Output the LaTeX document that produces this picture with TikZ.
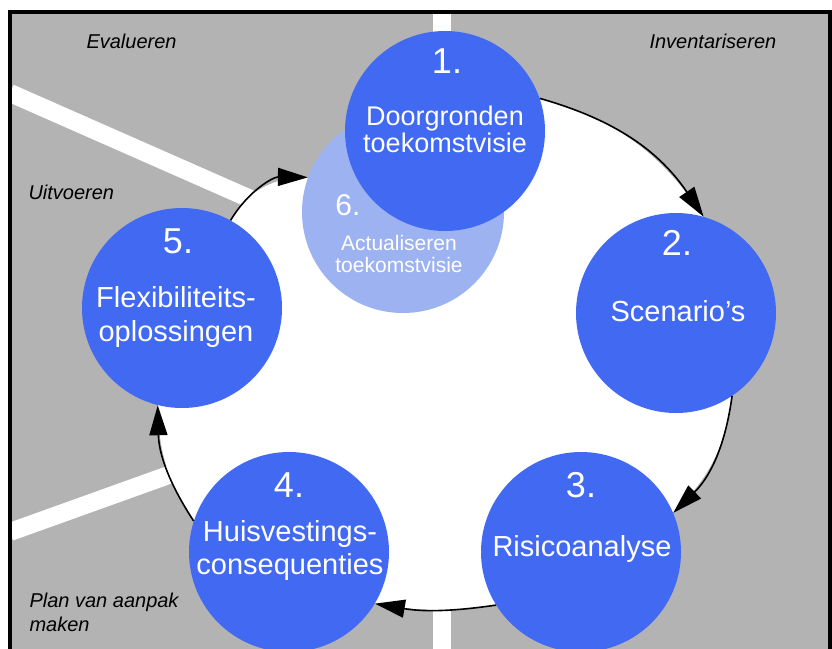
\documentclass[tikz,border=0pt]{standalone}
\usepackage{fontspec}
\setmainfont{Liberation Sans}
\usetikzlibrary{arrows.meta,backgrounds}

\definecolor{stageblue}{RGB}{65,105,242}
\definecolor{stagelight}{RGB}{157,178,240}
\definecolor{fieldgray}{RGB}{179,179,179}

\tikzset{
  stage/.style={circle, fill=stageblue, minimum size=200pt, inner sep=0pt},
  stagenum/.style={anchor=base, text=white, font=\fontsize{36}{36}\selectfont},
  stagetxt/.style={anchor=base, text=white, align=center, font=\fontsize{29}{33}\selectfont},
  phase/.style={anchor=base west, align=left, font=\itshape\fontsize{20}{24}\selectfont},
  road/.style={white, line width=18pt},
  flow/.style={-{Triangle[length=30pt,width=18pt]}, line width=1.6pt},
}

\begin{document}
\begin{tikzpicture}[x=1pt, y=-1pt]
  \useasboundingbox (0,0) rectangle (832,648);

  % steps; 6 sits behind step 1
  \node[stage, fill=stagelight, minimum size=202pt] (s6) at (403,212) {};
  \node[stage] (s1) at (445,131) {};
  \node[stage] (s2) at (676,313) {};
  \node[stage] (s3) at (581,552) {};
  \node[stage] (s4) at (289,552) {};
  \node[stage] (s5) at (182,308) {};

  \begin{scope}[on background layer]
    \fill[fieldgray] (10,12) rectangle (830,660);
    \draw[road] (442,10) -- (442,131);
    \draw[road] (442,560) -- (442,660);
    \draw[road] (10,93) -- (330,234);
    \draw[road] (10,532) -- (230,453);
    % white field inside the cycle
    \fill[white] (s1.center) -- (s1.19) to[bend left=20] (s2.74) -- (s2.center)
      -- (s2.304) to[bend left=19] (s3.23) -- (s3.center)
      -- (s3.212) to[bend left=9] (s4.329) -- (s4.center)
      -- (s4.162) to[bend left=16] (s5.256) -- (s5.center)
      -- (s5.61) to[bend left=30] (s6.160) -- (s6.center) -- cycle;
  \end{scope}

  \draw[line width=3.5pt] (10,12) rectangle (830,670);

  \draw[flow] (s1.19) to[bend left=20] (s2.74);
  \draw[flow] (s2.304) to[bend left=19] (s3.23);
  \draw[flow] (s3.212) to[bend left=9] (s4.329);
  \draw[flow] (s4.162) to[bend left=16] (s5.256);
  \draw[flow] (s5.61) to[bend left=30] (s6.160);

  % multi-line texts sit on their last baseline
  \node[stagenum] (n1) at (447,73) {1.};
  \node[stagetxt, font=\fontsize{27}{27}\selectfont] (t1) at (445,152) {Doorgronden\\toekomstvisie};
  \node[stagenum] (n2) at (677,255) {2.};
  \node[stagetxt] (t2) at (678,321) {Scenario's};
  \node[stagenum] (n3) at (581,497) {3.};
  \node[stagetxt] (t3) at (582,556) {Risicoanalyse};
  \node[stagenum] (n4) at (289,497) {4.};
  \node[stagetxt] (t4) at (290,574) {Huisvestings-\\consequenties};
  \node[stagenum] (n5) at (178,253) {5.};
  \node[stagetxt, font=\fontsize{29}{34}\selectfont] (t5) at (176,341) {Flexibiliteits-\\oplossingen};
  \node[stagenum, font=\fontsize{30}{30}\selectfont] (n6) at (348,215) {6.};
  \node[stagetxt, font=\fontsize{21}{22}\selectfont] (t6) at (399,272) {Actualiseren\\toekomstvisie};

  \node[phase] (ev) at (83,48) {Evalueren};
  \node[phase] (inv) at (646,48) {Inventariseren};
  \node[phase] (uit) at (25,199) {Uitvoeren};
  \node[phase] (plan) at (26,631) {Plan van aanpak\\maken};
\end{tikzpicture}
\end{document}
